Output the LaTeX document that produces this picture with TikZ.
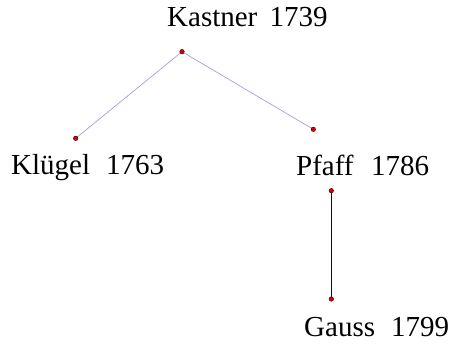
\documentclass[tikz,border=0pt]{standalone}
\usepackage{fontspec}
\setmainfont{Liberation Serif}
\begin{document}
\begin{tikzpicture}[x=1pt,y=-1pt,
  pt/.style={circle,draw=black!70!red,fill=red!85!black,line width=0.5pt,inner sep=0pt,minimum size=4.5pt},
  lbl/.style={anchor=base west,inner sep=0pt,font=\fontsize{29}{31}\selectfont},
  light/.style={draw={rgb,255:red,160;green,160;blue,230},line width=0.7pt},
  dark/.style={draw={rgb,255:red,0;green,0;blue,140},line width=1.2pt}]
\useasboundingbox (0,0) rectangle (454,345);
\node[lbl] (tk) at (167,27) {Kastner\hspace{0.42em}1739};
\node[lbl] (tkl) at (11,174) {Klügel\hspace{0.55em}1763};
\node[lbl] (tp) at (296,175) {Pfaff\hspace{0.6em}1786};
\node[lbl] (tg) at (304,336) {Gauss\hspace{0.55em}1799};
\coordinate (k) at (182,51.7);
\coordinate (kl) at (75.7,138.3);
\coordinate (p) at (313.3,129.3);
\coordinate (p2) at (331.3,190.7);
\coordinate (g) at (331.3,299);
\draw[light] (k) -- (kl);
\draw[light] (k) -- (p);
\draw[dark] (p2) -- (g);
\foreach \c in {k,kl,p,p2,g} \node[pt] (d\c) at (\c) {};
\end{tikzpicture}
\end{document}
